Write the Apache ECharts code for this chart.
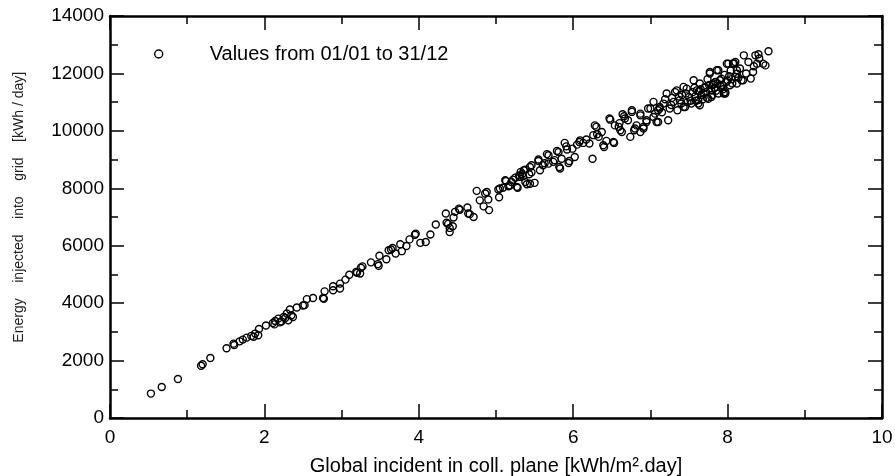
<!DOCTYPE html>
<html>
<head>
<meta charset="utf-8">
<script src="https://cdn.jsdelivr.net/npm/echarts@6/dist/echarts.min.js"></script>
<style>
html,body{margin:0;padding:0;background:#fff;}
#chart{width:895px;height:476px;}
</style>
</head>
<body>
<div id="chart"></div>
<script>
// Daily values: [global incident in coll. plane (kWh/m².day), energy injected into grid (kWh/day)]
const winterDays = [
  [0.53,850],[0.67,1080],[0.88,1360],[1.18,1820],[1.20,1870],[1.30,2090],[1.51,2430],[1.60,2590],
  [1.61,2540],[1.68,2670],[1.72,2730],[1.77,2800],[1.83,2860],[1.86,2830],[1.88,2940],[1.92,2880],
  [1.93,3100],[2.02,3220],[2.11,3310],[2.13,3260],[2.14,3380],[2.18,3460],[2.20,3330],[2.22,3360],
  [2.25,3520],[2.27,3480],[2.29,3640],[2.31,3400],[2.33,3780],[2.35,3580],[2.37,3520],[2.42,3850],
  [2.50,3920],[2.52,3930],[2.55,4140],[2.63,4180],[2.76,4180],[2.77,4150],[2.78,4410],[2.89,4450],
  [2.89,4590],[2.98,4510],[2.98,4680]
];
const midSeasonDays = [
  [3.05,4820],[3.10,4990],[3.19,5090],[3.20,5060],[3.24,5030],[3.25,5230],[3.27,5280],[3.38,5420],
  [3.47,5360],[3.48,5300],[3.49,5650],[3.58,5530],[3.61,5840],[3.64,5870],[3.66,5920],[3.70,5730],
  [3.76,6050],[3.78,5810],[3.84,5990],[3.88,6220],[3.95,6380],[3.96,6420],[4.02,6100],[4.09,6130],
  [4.15,6390],[4.22,6740],[4.35,7120],[4.36,6800],[4.38,6760],[4.40,6480],[4.40,6620],[4.44,6680],
  [4.45,6980],[4.47,7180],[4.52,7290],[4.53,7250],[4.63,7330],[4.64,7120],[4.66,7100],[4.71,7000],
  [4.75,7910],[4.79,7580],[4.84,7370],[4.86,7820],[4.88,7870],[4.90,7610],[4.91,7240],[5.03,7960],
  [5.04,7690],[5.05,7990],[5.09,8020],[5.12,8280],[5.13,8250],[5.16,8070],[5.18,8100],[5.20,8220],
  [5.22,8300],[5.25,8370],[5.27,8050],[5.28,8020],[5.30,8450],[5.31,8400],[5.32,8570],[5.34,8500],
  [5.35,8420],[5.36,8630],[5.38,8650],[5.38,8220],[5.40,8140],[5.43,8490],[5.44,8740],[5.44,8160],
  [5.46,8800],[5.46,8560],[5.50,8190],[5.55,8950],[5.55,9000],[5.57,8630],[5.61,8800],[5.63,8870],
  [5.66,9190],[5.68,8860],[5.68,9150],[5.74,8920],[5.76,8980],[5.79,9300],[5.81,9260],[5.82,8740],
  [5.83,8690],[5.85,9030],[5.89,9580],[5.91,9460],[5.92,9350],[5.94,8880],[5.95,8950],[5.99,9380]
];
const summerDays = [
  [6.02,9090],[6.05,9520],[6.08,9610],[6.09,9670],[6.13,9580],[6.17,9700],[6.21,9560],[6.25,9030],
  [6.26,9850],[6.28,10190],[6.30,10140],[6.31,9880],[6.33,9790],[6.37,9960],[6.39,9500],[6.40,9440],
  [6.43,9650],[6.47,10430],[6.48,10390],[6.52,9610],[6.53,9580],[6.54,10190],[6.59,10140],[6.60,10270],
  [6.61,10020],[6.63,9960],[6.64,10580],[6.66,10510],[6.67,10430],[6.71,10370],[6.74,9790],[6.76,10660],
  [6.76,10720],[6.79,10020],[6.80,10080],[6.82,10190],[6.87,10600],[6.87,10540],[6.87,9960],[6.91,10080],
  [6.91,10140],[6.95,10310],[6.95,10370],[6.97,10780],[7.00,10780],[7.04,10480],[7.04,11010],[7.06,10600],
  [7.08,10310],[7.10,10720],[7.10,10310],[7.12,10830],[7.12,10780],[7.15,10650],[7.17,10950],[7.19,11100],
  [7.21,11300],[7.23,10370],[7.25,10780],[7.27,10900],[7.28,11150],[7.30,11010],[7.32,11350],[7.34,11410],
  [7.35,10720],[7.37,11200],[7.38,11070],[7.40,10950],[7.41,11250],[7.43,11530],[7.43,10830],[7.45,10830],
  [7.46,11300],[7.47,11470],[7.48,11000],[7.50,11180],[7.52,11050],[7.53,10950],[7.55,11350],[7.56,11760],
  [7.57,11500],[7.58,11200],[7.59,11050],[7.60,11410],[7.62,11070],[7.62,10950],[7.63,11380],[7.64,11650],
  [7.64,10890],[7.65,11450],[7.66,11250],[7.68,11100],[7.69,11300],[7.70,11500],[7.71,11530],[7.72,11350],
  [7.73,11150],[7.74,11800],[7.75,11120],[7.76,11600],[7.77,12000],[7.77,12050],[7.79,11410],[7.79,11180],
  [7.80,11250],[7.81,11600],[7.82,11650],[7.83,11500],[7.84,11700],[7.85,11400],[7.86,12110],[7.87,11650],
  [7.88,11300],[7.88,12110],[7.90,11760],[7.91,11550],[7.92,11820],[7.93,11600],[7.94,11450],[7.95,11300],
  [7.96,11950],[7.97,11300],[7.97,11350],[7.98,11700],[7.99,12340],[8.00,11750],[8.01,12340],[8.02,11900],
  [8.03,11590],[8.04,12100],[8.05,11800],[8.06,11650],[8.07,12340],[8.08,12360],[8.10,11880],[8.10,12400],
  [8.12,12110],[8.12,11990],[8.12,11650],[8.14,11850],[8.16,12170],[8.18,11760],[8.20,11760],[8.21,12630],
  [8.24,12000],[8.27,12400],[8.30,11820],[8.33,12050],[8.34,12250],[8.36,12630],[8.38,12340],[8.40,12670],
  [8.41,12520],[8.46,12340],[8.49,12280],[8.53,12770]
];
const xTicks = { min: 0, max: 10, interval: 2 };
const yTicks = { min: 0, max: 14000, interval: 2000 };
const seriesName = 'Values from 01/01 to 31/12';
const xTitle = 'Global incident in coll. plane [kWh/m\u00b2.day]';
const yTitle = '\u00a0\u00a0\u00a0\u00a0\u00a0Energy    injected    into    grid    [kWh / day]';

const FONT = 'Liberation Sans, Arial, sans-serif';
const lineStyle = { color: '#000', width: 2.5 };
const tickStyle = { color: '#000', width: 1.5 };

function xAxisCfg(pos, labels) {
  return {
    type: 'value', position: pos, min: xTicks.min, max: xTicks.max, interval: xTicks.interval,
    axisLine: { show: true, onZero: false, lineStyle: lineStyle },
    axisTick: { show: true, inside: true, length: 14, lineStyle: tickStyle },
    minorTick: { show: true, splitNumber: 2, length: 8, lineStyle: tickStyle },
    splitLine: { show: false }, minorSplitLine: { show: false },
    axisLabel: { show: labels, color: '#000', fontSize: 19, fontFamily: FONT, margin: 10,
                 formatter: v => String(v) },
    name: labels ? xTitle : '', nameLocation: 'middle', nameGap: 38,
    nameTextStyle: { color: '#000', fontSize: 20, fontFamily: FONT }
  };
}
function yAxisCfg(pos, labels) {
  return {
    type: 'value', position: pos, min: yTicks.min, max: yTicks.max, interval: yTicks.interval,
    axisLine: { show: true, onZero: false, lineStyle: lineStyle },
    axisTick: { show: true, inside: true, length: 14, lineStyle: tickStyle },
    minorTick: { show: true, splitNumber: 2, length: 8, lineStyle: tickStyle },
    splitLine: { show: false }, minorSplitLine: { show: false },
    axisLabel: { show: labels, color: '#000', fontSize: 19, fontFamily: FONT, margin: 6,
                 formatter: v => String(v) },
    name: labels ? yTitle : '', nameLocation: 'middle', nameGap: 84, nameRotate: 90,
    nameTextStyle: { color: '#222', fontSize: 14, fontFamily: FONT }
  };
}

const chart = echarts.init(document.getElementById('chart'), null, { renderer: 'canvas' });
chart.setOption({
  animation: false,
  backgroundColor: '#fff',
  grid: { left: 110, right: 13, top: 16, bottom: 58, containLabel: false, outerBoundsMode: 'none' },
  legend: {
    data: [seriesName], left: 149, top: 39, icon: 'circle', itemWidth: 8, itemHeight: 8,
    textStyle: { color: '#000', fontSize: 20, fontFamily: FONT, padding: [0, 0, 0, 42] },
    itemStyle: { color: 'rgba(0,0,0,0)', borderColor: '#000', borderWidth: 1.4 }
  },
  xAxis: [xAxisCfg('bottom', true), xAxisCfg('top', false)],
  yAxis: [yAxisCfg('left', true), yAxisCfg('right', false)],
  series: [{
    name: seriesName, type: 'scatter', xAxisIndex: 0, yAxisIndex: 0,
    symbol: 'circle', symbolSize: 7,
    itemStyle: { color: 'rgba(0,0,0,0)', borderColor: '#000', borderWidth: 1.4, opacity: 1 },
    data: winterDays.concat(midSeasonDays, summerDays)
  }]
});
</script>
</body>
</html>
